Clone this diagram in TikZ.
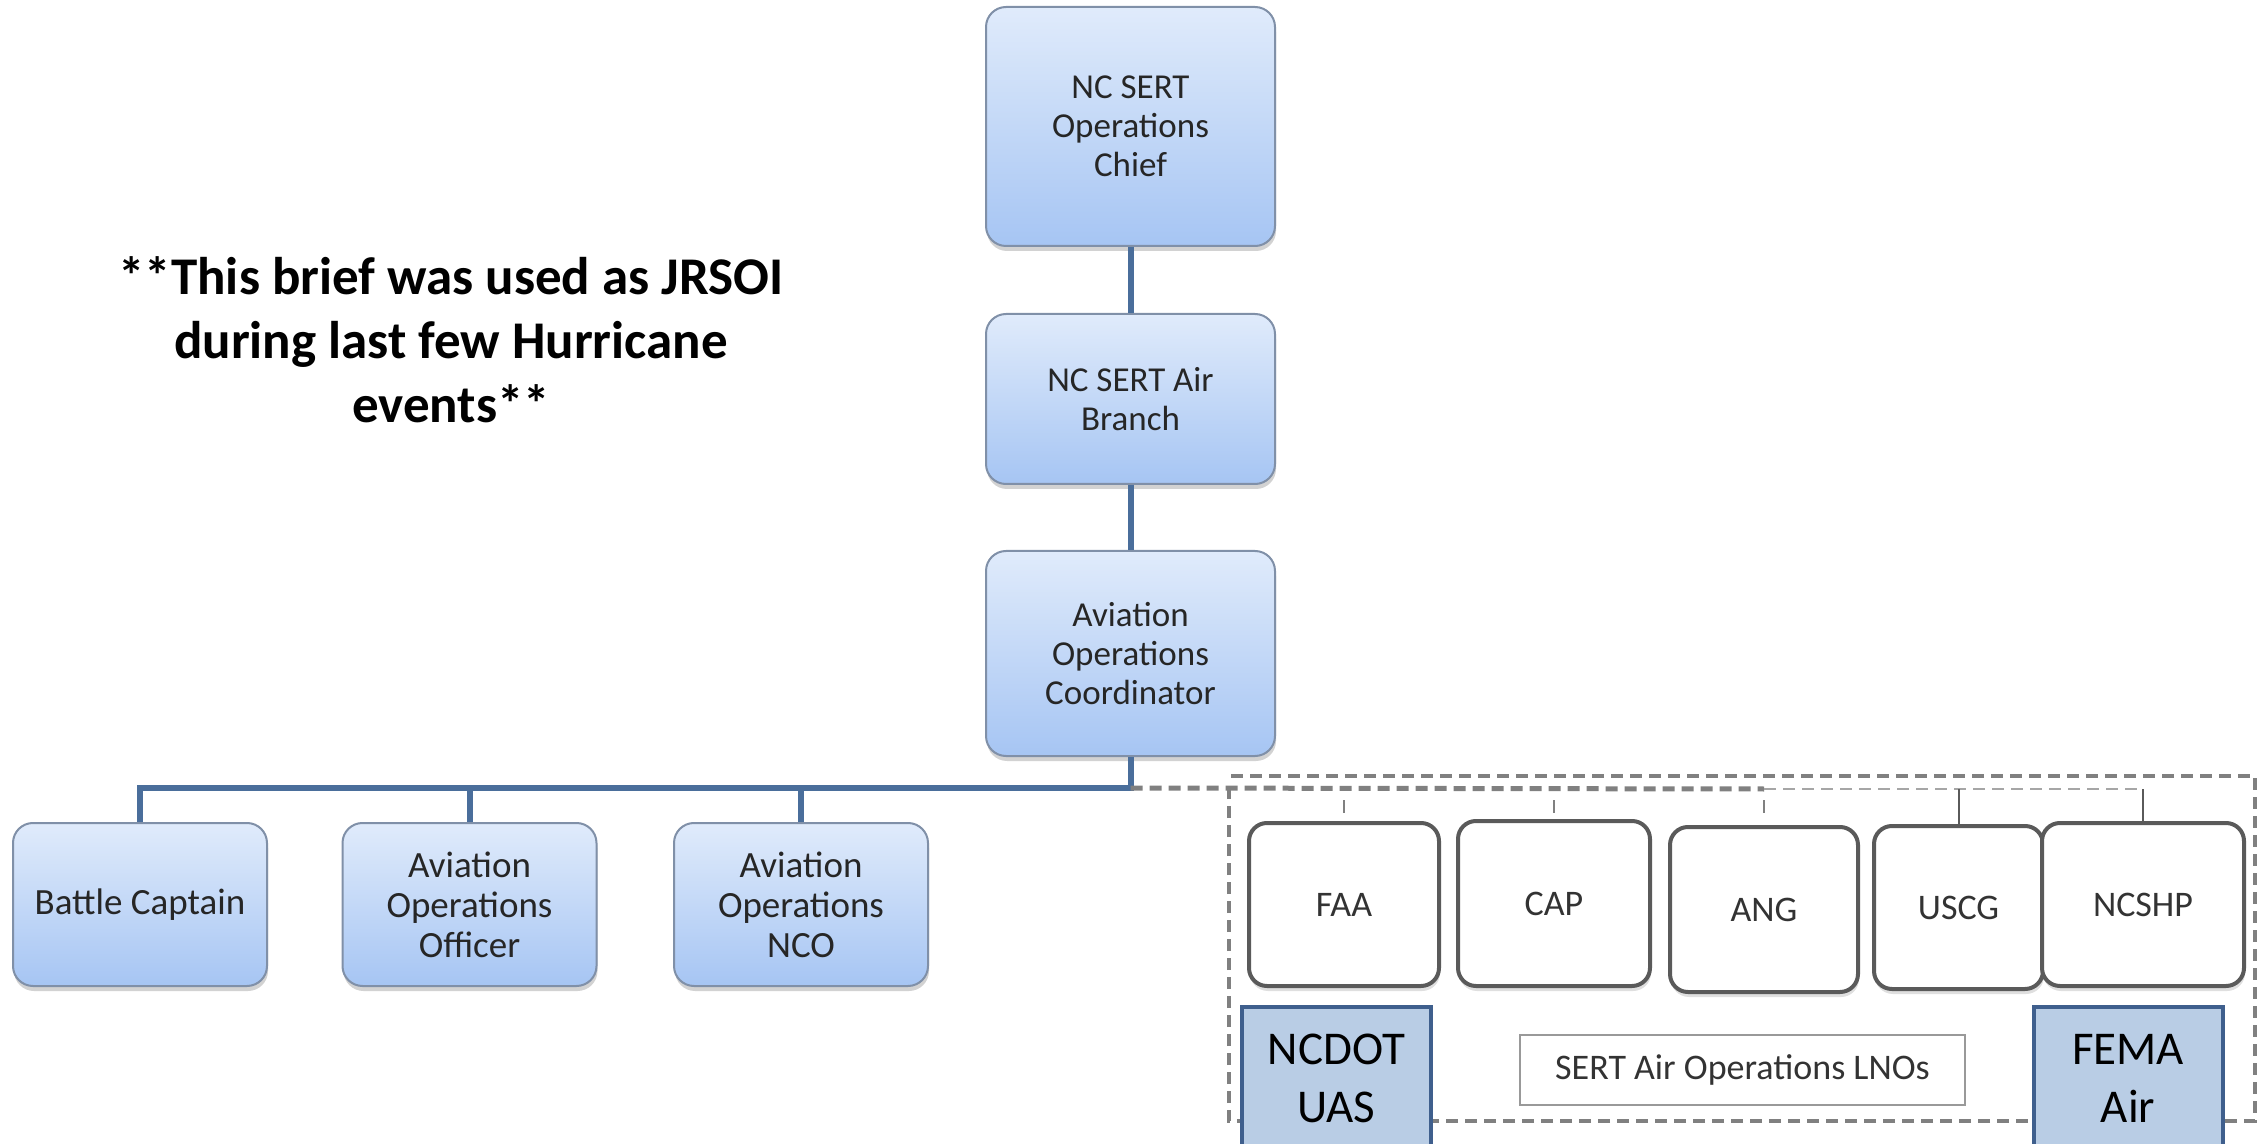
\documentclass[tikz,border=0pt]{standalone}
\usepackage{fontspec}
\setmainfont{Carlito}
\usetikzlibrary{shadows}
\definecolor{boxtop}{RGB}{224,235,251}
\definecolor{boxbottom}{RGB}{166,197,243}
\definecolor{boxline}{RGB}{128,144,168}
\definecolor{linkcolor}{RGB}{74,110,155}
\definecolor{lnoline}{RGB}{90,90,90}
\definecolor{dashcolor}{RGB}{128,128,128}
\definecolor{agencyfill}{RGB}{185,205,229}
\definecolor{agencyline}{RGB}{63,95,141}
\newcommand{\linkwidth}{3pt}
\newcommand{\dashwidth}{2pt}
\newcommand{\rolefont}{\fontsize{17.5}{19.5}\selectfont}
\newcommand{\lnofont}{\fontsize{18}{20}\selectfont}

\tikzset{
	rolebox/.style={draw=boxline, line width=1pt, rounded corners=10pt,
		top color=boxtop, bottom color=boxbottom, text=black!85,
		align=center, inner sep=0pt, font=\rolefont,
		drop shadow={shadow xshift=0.5pt, shadow yshift=-2.5pt, opacity=0.35}},
	staffbox/.style={rolebox, minimum width=127pt, minimum height=81.5pt,
		font=\fontsize{18.5}{20}\selectfont},
	lnobox/.style={draw=lnoline, line width=2pt, rounded corners=9pt,
		fill=white, text=black!80, inner sep=0pt, font=\lnofont,
		minimum height=81.5pt,
		drop shadow={shadow xshift=0.5pt, shadow yshift=-2.5pt, opacity=0.25}},
	agencybox/.style={draw=agencyline, line width=2pt, fill=agencyfill,
		align=center, inner sep=0pt, minimum width=94.5pt, minimum height=71pt,
		font=\fontsize{23.5}{29}\selectfont},
	link/.style={linkcolor, line width=\linkwidth},
	frame/.style={dashcolor, line width=\dashwidth, dash pattern=on 6pt off 3.5pt},
	tick/.style={lnoline, line width=1pt},
}

\begin{document}
\begin{tikzpicture}[x=0.5pt, y=-0.5pt]
	\useasboundingbox[fill=white] (0,0) rectangle (2267,1144);
	\clip (0,0) rectangle (2267,1144);

	\node[font=\bfseries\fontsize{26.5}{32}\selectfont, align=center] (note)
		at (451,340) {**This brief was used as JRSOI\\during last few Hurricane\\events**};

	% chain of command
	\node[rolebox, minimum width=144.5pt, minimum height=119.5pt] (chief)
		at (1130.5,126.5) {NC SERT\\Operations\\Chief};
	\node[rolebox, minimum width=144.5pt, minimum height=85pt] (branch)
		at (1130.5,399) {NC SERT Air\\Branch};
	\node[rolebox, minimum width=144.5pt, minimum height=102.5pt] (coord)
		at (1130.5,653.5) {Aviation\\Operations\\Coordinator};

	\node[staffbox] (battle) at (140,904.5) {Battle Captain};
	\node[staffbox] (officer) at (469.5,904.5) {Aviation\\Operations\\Officer};
	\node[staffbox] (nco) at (801,904.5) {Aviation\\Operations\\NCO};

	\coordinate (bus) at (1130.5,788);
	\draw[link] (chief) -- (branch);
	\draw[link] (branch) -- (coord);
	\draw[link] (coord) -- (bus) -| (battle.north);
	\foreach \n in {officer, nco}
		\draw[link] (bus) -| (\n.north);

	% liaison officers
	\draw[frame] (1231,776) -- (2255,776) -- (2255,1121) -- (1229,1121) -- (1229,790);
	\coordinate (lnoend) at (2143,789);
	\coordinate (tickrow) at (0,800);
	\draw[frame, line width=2.5pt] (bus) -- (1764,789);
	\draw[frame, line width=1.2pt, dashcolor!70] (1764,789) -- (lnoend);

	\node[lnobox, minimum width=95pt] (faa) at (1344,904.5) {FAA};
	\node[lnobox, minimum width=96pt, minimum height=82.5pt] (cap) at (1554,903.5) {CAP};
	\node[lnobox, minimum width=94pt, minimum height=82.5pt] (ang) at (1764,909.5) {ANG};
	\node[lnobox, minimum width=84.5pt] (uscg) at (1958.5,907.5) {USCG};
	\node[lnobox, minimum width=101pt] (ncshp) at (2143,904.5) {NCSHP};

	\foreach \n in {faa, cap, ang}
		\draw[tick, dashcolor] (\n.north |- tickrow) -- ++(0,13);
	\draw[tick] (uscg.north) -- (uscg.north |- lnoend);
	\draw[tick] (ncshp.north) -- (lnoend);

	\node[draw=black!40, line width=1pt, fill=white, inner sep=0pt,
		minimum width=222.5pt, minimum height=35pt, font=\lnofont, text=black!80]
		(lnos) at (1742.5,1070) {SERT Air Operations LNOs};
	\node[agencybox] (ncdot) at (1336.5,1078) {NCDOT\\UAS};
	\node[agencybox] (fema) at (2128,1078) {FEMA\\Air};
\end{tikzpicture}
\end{document}
